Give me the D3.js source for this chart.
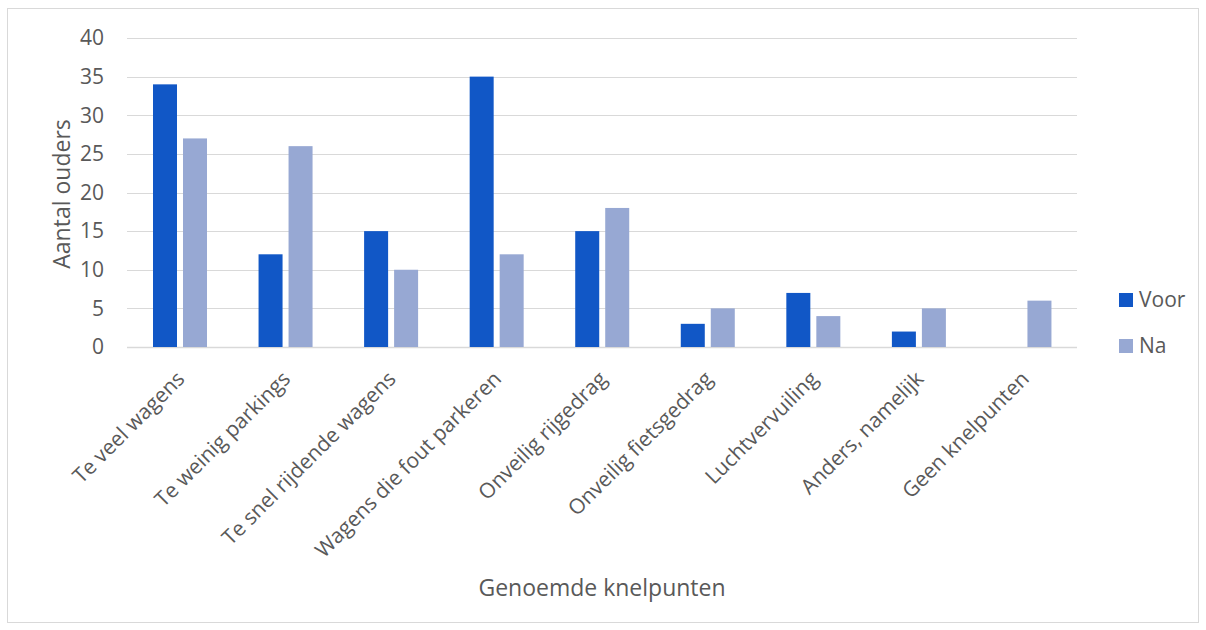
<!DOCTYPE html>
<html>
<head>
<meta charset="utf-8">
<script src="https://cdn.jsdelivr.net/npm/d3@7"></script>
<style>
  body { margin: 0; background: #fff; }
  text { font-family: "Open Sans", sans-serif; fill: #595959; }
</style>
</head>
<body>
<div id="chart"></div>
<script>
const categories = ['Te veel wagens', 'Te weinig parkings', 'Te snel rijdende wagens', 'Wagens die fout parkeren',
  'Onveilig rijgedrag', 'Onveilig fietsgedrag', 'Luchtvervuiling', 'Anders, namelijk', 'Geen knelpunten'];
const voor = [34, 12, 15, 35, 15, 3, 7, 2, 0];
const na = [27, 26, 10, 12, 18, 5, 4, 5, 6];
const seriesNames = ['Voor', 'Na'];
const yTicks = [0, 5, 10, 15, 20, 25, 30, 35, 40];

let width = 1206, height = 630;
let colors = { Voor: '#1157c6', Na: '#97a8d3' };

let svg = d3.select('#chart').append('svg')
  .attr('width', width)
  .attr('height', height);

// outer frame
svg.append('rect')
  .attr('x', 7.5).attr('y', 8.5)
  .attr('width', 1191).attr('height', 614)
  .attr('fill', 'none')
  .attr('stroke', '#d9d9d9');

let x = d3.scaleBand().domain(categories).range([127, 1077]);
let y = d3.scaleLinear().domain([0, 40]).range([347, 38]);
let inner = d3.scaleBand().domain(seriesNames).range([26, 80]).paddingInner(0.2);

// gridlines
svg.append('g').selectAll('line')
  .data(yTicks)
  .enter().append('line')
  .attr('x1', 127).attr('x2', 1077)
  .attr('y1', d => Math.round(y(d)) + 0.5)
  .attr('y2', d => Math.round(y(d)) + 0.5)
  .attr('stroke', '#d9d9d9')
  .attr('stroke-width', d => d === 0 ? 1.5 : 1);

// y tick labels
svg.append('g').selectAll('text')
  .data(yTicks)
  .enter().append('text')
  .attr('x', 104)
  .attr('y', d => y(d))
  .attr('dy', '0.35em')
  .attr('text-anchor', 'end')
  .style('font-size', '21px')
  .text(d => d);

// bars
let rows = categories.map((c, i) => ({ cat: c, Voor: voor[i], Na: na[i] }));
let groups = svg.append('g').selectAll('g')
  .data(rows)
  .enter().append('g')
  .attr('transform', d => `translate(${x(d.cat)},0)`);

groups.selectAll('rect')
  .data(d => seriesNames.map(s => ({ s: s, v: d[s] })).filter(e => e.v > 0))
  .enter().append('rect')
  .attr('x', d => inner(d.s))
  .attr('width', inner.bandwidth())
  .attr('y', d => y(d.v))
  .attr('height', d => y(0) - y(d.v))
  .attr('fill', d => colors[d.s]);

// category labels
svg.append('g').selectAll('text')
  .data(categories)
  .enter().append('text')
  .attr('transform', d => `translate(${x(d) + x.bandwidth() / 2 - 5},${369}) rotate(-45)`)
  .attr('text-anchor', 'end')
  .attr('dy', '0.75em')
  .style('font-size', '21px')
  .text(d => d);

// axis titles
svg.append('text')
  .attr('transform', 'translate(70,194) rotate(-90)')
  .attr('text-anchor', 'middle')
  .style('font-size', '23px')
  .text('Aantal ouders');

svg.append('text')
  .attr('x', 602).attr('y', 596)
  .attr('text-anchor', 'middle')
  .style('font-size', '23px')
  .text('Genoemde knelpunten');

// legend
let legend = svg.append('g').selectAll('g')
  .data(seriesNames)
  .enter().append('g')
  .attr('transform', (d, i) => `translate(1119,${293 + i * 46})`);

legend.append('rect')
  .attr('width', 14).attr('height', 14)
  .attr('fill', d => colors[d]);

legend.append('text')
  .attr('x', 20).attr('y', 7)
  .attr('dy', '0.35em')
  .style('font-size', '21px')
  .text(d => d);
</script>
</body>
</html>
